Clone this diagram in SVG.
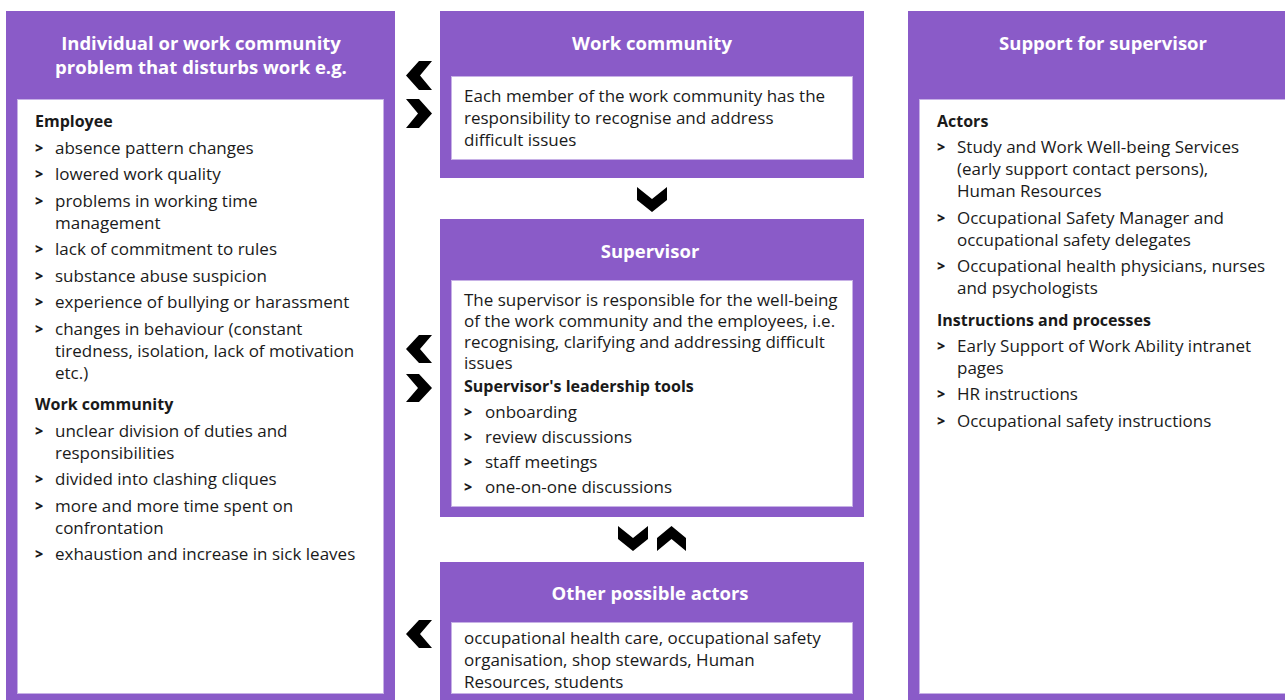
<svg xmlns="http://www.w3.org/2000/svg" width="1285" height="700" viewBox="0 0 1285 700">
<style>
.outer{fill:#8a5bc8}
.inner{fill:#ffffff;stroke:#c7b1e6;stroke-width:1}
.title{font-family:"Open Sans",Lato,sans-serif;font-weight:bold;font-size:18.5px;fill:#ffffff;text-anchor:middle}
.t{font-family:"Open Sans",Lato,sans-serif;font-size:17px;fill:#1a1a1a}
.h{font-family:"Open Sans",Lato,sans-serif;font-size:16px;font-weight:bold;fill:#1a1a1a}
.b{font-family:"Open Sans",Lato,sans-serif;font-size:14px;font-weight:800;fill:#1a1a1a}
.chev{fill:#000000}
</style>
<rect width="1285" height="700" fill="#ffffff"/>

<g id="node-problem">
<rect class="outer" x="6" y="11" width="389" height="689"/>
<rect class="inner" x="17.5" y="99.5" width="366" height="594"/>
<text class="title" x="201" y="50">Individual or work community</text>
<text class="title" x="201" y="74">problem that disturbs work e.g.</text>
<text class="h" x="35" y="127">Employee</text>
<g class="b"><text x="35" y="153">&gt;</text><text x="35" y="179">&gt;</text><text x="35" y="206">&gt;</text><text x="35" y="254">&gt;</text><text x="35" y="281">&gt;</text><text x="35" y="307">&gt;</text><text x="35" y="334">&gt;</text><text x="35" y="436">&gt;</text><text x="35" y="484">&gt;</text><text x="35" y="511">&gt;</text><text x="35" y="559">&gt;</text></g>
<text class="t" x="55" y="154">absence pattern changes</text>
<text class="t" x="55" y="180">lowered work quality</text>
<text class="t" x="55" y="207">problems in working time</text>
<text class="t" x="55" y="229">management</text>
<text class="t" x="55" y="255">lack of commitment to rules</text>
<text class="t" x="55" y="282">substance abuse suspicion</text>
<text class="t" x="55" y="308">experience of bullying or harassment</text>
<text class="t" x="55" y="335">changes in behaviour (constant</text>
<text class="t" x="55" y="357">tiredness, isolation, lack of motivation</text>
<text class="t" x="55" y="379">etc.)</text>
<text class="h" x="35" y="410">Work community</text>
<text class="t" x="55" y="437">unclear division of duties and</text>
<text class="t" x="55" y="459">responsibilities</text>
<text class="t" x="55" y="485">divided into clashing cliques</text>
<text class="t" x="55" y="512">more and more time spent on</text>
<text class="t" x="55" y="534">confrontation</text>
<text class="t" x="55" y="560">exhaustion and increase in sick leaves</text>
</g>

<g id="node-workcommunity">
<rect class="outer" x="440" y="11" width="424" height="167"/>
<rect class="inner" x="451.5" y="76.5" width="401" height="83"/>
<text class="title" x="652" y="50">Work community</text>
<text class="t" x="464" y="102">Each member of the work community has the</text>
<text class="t" x="464" y="124">responsibility to recognise and address</text>
<text class="t" x="464" y="146">difficult issues</text>
</g>

<g id="node-supervisor">
<rect class="outer" x="440" y="219" width="424" height="298"/>
<rect class="inner" x="451.5" y="280.5" width="401" height="226"/>
<text class="title" x="650" y="258">Supervisor</text>
<text class="t" x="464" y="306">The supervisor is responsible for the well-being</text>
<text class="t" x="464" y="327">of the work community and the employees, i.e.</text>
<text class="t" x="464" y="348">recognising, clarifying and addressing difficult</text>
<text class="t" x="464" y="369">issues</text>
<text class="h" x="464" y="392">Supervisor's leadership tools</text>
<g class="b"><text x="464" y="417">&gt;</text><text x="464" y="442">&gt;</text><text x="464" y="467">&gt;</text><text x="464" y="492">&gt;</text></g>
<text class="t" x="485" y="418">onboarding</text>
<text class="t" x="485" y="443">review discussions</text>
<text class="t" x="485" y="468">staff meetings</text>
<text class="t" x="485" y="493">one-on-one discussions</text>
</g>

<g id="node-otheractors">
<rect class="outer" x="440" y="562" width="424" height="138"/>
<rect class="inner" x="451.5" y="622.5" width="401" height="71"/>
<text class="title" x="650" y="600">Other possible actors</text>
<text class="t" x="464" y="644">occupational health care, occupational safety</text>
<text class="t" x="464" y="666">organisation, shop stewards, Human</text>
<text class="t" x="464" y="688">Resources, students</text>
</g>

<g id="node-support">
<rect class="outer" x="908" y="11" width="377" height="689"/>
<rect class="inner" x="919.5" y="99.5" width="370" height="594"/>
<text class="title" x="1103" y="50">Support for supervisor</text>
<text class="h" x="937" y="127">Actors</text>
<g class="b"><text x="937" y="152">&gt;</text><text x="937" y="223">&gt;</text><text x="937" y="271">&gt;</text><text x="937" y="351">&gt;</text><text x="937" y="399">&gt;</text><text x="937" y="426">&gt;</text></g>
<text class="t" x="957" y="153">Study and Work Well-being Services</text>
<text class="t" x="957" y="175">(early support contact persons),</text>
<text class="t" x="957" y="197">Human Resources</text>
<text class="t" x="957" y="224">Occupational Safety Manager and</text>
<text class="t" x="957" y="246">occupational safety delegates</text>
<text class="t" x="957" y="272">Occupational health physicians, nurses</text>
<text class="t" x="957" y="294">and psychologists</text>
<text class="h" x="937" y="326">Instructions and processes</text>
<text class="t" x="957" y="352">Early Support of Work Ability intranet</text>
<text class="t" x="957" y="374">pages</text>
<text class="t" x="957" y="400">HR instructions</text>
<text class="t" x="957" y="427">Occupational safety instructions</text>
</g>

<g id="connectors">
<polygon class="chev" points="432,61 420,75.5 432,90 419,90 406,75.5 419,61"/>
<polygon class="chev" points="406,99 418,113.5 406,128 419,128 432,113.5 419,99"/>
<polygon class="chev" points="637,187 652,199 667,187 667,200 652,212 637,200"/>
<polygon class="chev" points="432,335 420,349 432,363 419,363 406,349 419,335"/>
<polygon class="chev" points="406,374 418,388 406,402 419,402 432,388 419,374"/>
<polygon class="chev" points="618,526 633,538 648,526 648,539 633,551 618,539"/>
<polygon class="chev" points="657,551 671.5,539 686,551 686,538 671.5,526 657,538"/>
<polygon class="chev" points="432,620 420,634 432,648 419,648 406,634 419,620"/>
</g>
</svg>
